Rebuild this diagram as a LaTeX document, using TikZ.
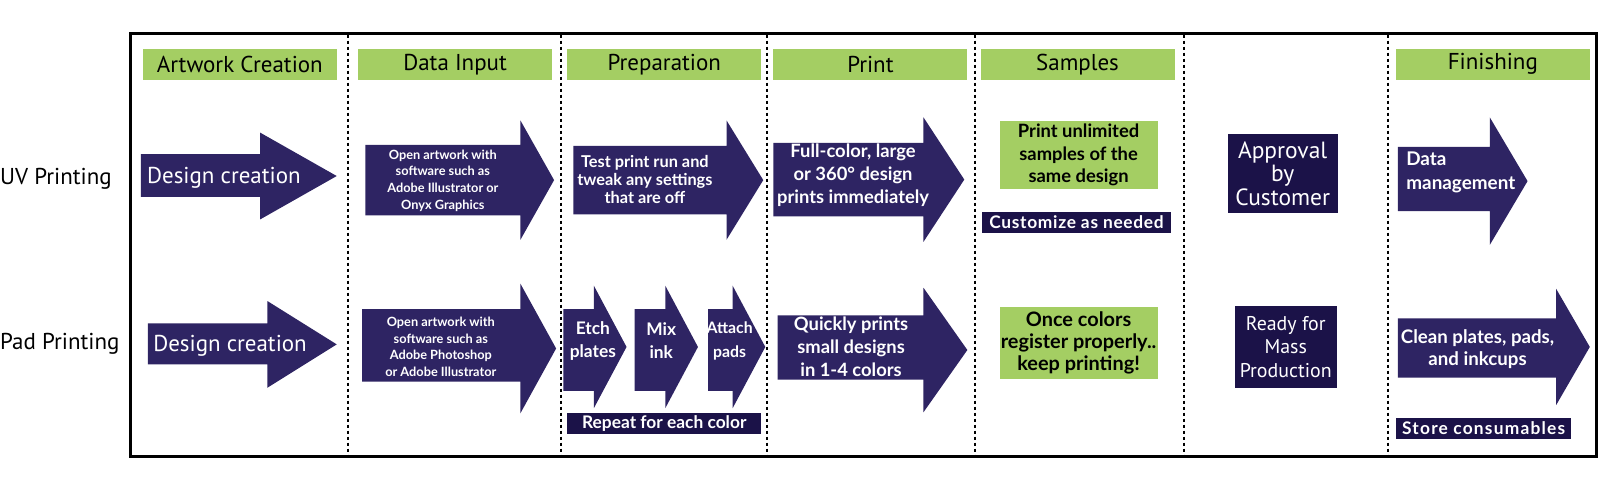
\documentclass[tikz,border=0pt]{standalone}
\usepackage{fontspec}
\setmainfont{PT Sans}
\newfontfamily\latofont{Lato}
\usetikzlibrary{positioning}
\definecolor{navy}{RGB}{46,36,99}
\definecolor{inkbox}{RGB}{27,18,72}
\definecolor{leaf}{RGB}{164,206,99}
% flecha gruesa: x cola, x cabeza, x punta, y arriba, y abajo, cabeza arriba, cabeza abajo
\newcommand{\fatarrow}[7]{%
  \fill[navy] (#1,#4) -- (#2,#4) -- (#2,#6) -- (#3,{(#6+#7)/2}) -- (#2,#7) -- (#2,#5) -- (#1,#5) -- cycle;}

\begin{document}
\begin{tikzpicture}[x=1pt,y=-1pt,scale=1.0204,transform shape,
  hdr/.style={fill=leaf,inner sep=0pt,minimum width=190pt,minimum height=30pt,font=\fontsize{22.5}{24}\selectfont},
  rowlbl/.style={anchor=west,inner sep=0pt,font=\fontsize{22.5}{24}\selectfont},
  arrtxt/.style 2 args={text=white,align=center,inner sep=0pt,font=\latofont\bfseries\fontsize{#1}{#2}\selectfont},
  bigtxt/.style={text=white,anchor=west,inner sep=0pt,font=\fontsize{22.5}{24}\selectfont},
  greenbox/.style={fill=leaf,align=center,inner sep=0pt,font=\latofont\bfseries\fontsize{#1}{22}\selectfont},
  darkbox/.style={fill=inkbox,text=white,align=center,inner sep=0pt,font=\fontsize{#1}{23}\selectfont},
  tagbox/.style={fill=inkbox,text=white,inner sep=0pt,minimum height=21pt,font=\latofont\bfseries\fontsize{17}{18}\selectfont\addfontfeature{LetterSpace=#1}},
  tagbox/.default=0]
  \useasboundingbox (0,0) rectangle (1568,490);

  % Marco
  \draw[line width=3pt] (128,33) rectangle (1565,447);

  % Separadores
  \foreach \x in {341,550,752,955,1160,1360}
    \draw[line width=2pt,dash pattern=on 3pt off 3pt] (\x,34) -- (\x,446);

  % Encabezados
  \foreach \x/\t/\n in {235/Artwork Creation/hart,446/Data Input/hdata,651/Preparation/hprep,853/Print/hprint,1056/Samples/hsamp,1463/Finishing/hfin}
    \node[hdr] (\n) at (\x,63) {\t};

  % Filas
  \node[rowlbl] (uv) at (0,175) {UV Printing};
  \node[rowlbl] (pad) at (0,337) {Pad Printing};

  % UV Printing
  \fatarrow{138}{255}{330}{151}{193}{130}{215}
  \node[bigtxt] (uvdesign) at (144,174) {Design creation};
  \fatarrow{358}{510}{543}{142}{211}{118}{235}
  \node[arrtxt={12.5}{16.3}] (uvdata) at (434,177) {Open artwork with\\software such as\\Adobe Illustrator or\\Onyx Graphics};
  \fatarrow{562}{712}{748}{143}{210}{118}{235}
  \node[arrtxt={16}{18}] (uvprep) at (632,176) {Test print run and\\tweak any settings\\that are off};
  \fatarrow{758}{905}{945}{140}{212}{115}{237}
  \node[arrtxt={18}{22.5}] (uvprint) at (836,172) {Full-color, large\\or 360° design\\prints immediately};
  \node[greenbox=18,minimum width=155pt,minimum height=67pt] (uvsamp) at (1057,152) {Print unlimited\\samples of the\\same design};
  \node[tagbox=4,minimum width=186pt] (uvcust) at (1055,218) {Customize as needed};
  \node[darkbox=23,minimum width=108pt,minimum height=78pt] (uvok) at (1257,170) {Approval\\by\\Customer};
  \fatarrow{1370}{1460}{1497}{144}{207}{115}{240}
  \node[arrtxt={18.5}{23},align=left,anchor=west] (uvfin) at (1378,169) {Data\\management};

  % Pad Printing
  \fatarrow{145}{262}{330}{317}{357}{295}{380}
  \node[bigtxt] (paddesign) at (150,339) {Design creation};
  \fatarrow{355}{510}{545}{303}{374}{278}{405}
  \node[arrtxt={12.5}{16.3}] (paddata) at (432,340) {Open artwork with\\software such as\\Adobe Photoshop\\or Adobe Illustrator};
  \fatarrow{552}{582}{614}{303}{383}{280}{400}
  \node[arrtxt={17}{23}] (padetch) at (581,334) {Etch\\plates};
  \fatarrow{622}{652}{684}{303}{383}{280}{400}
  \node[arrtxt={17}{23}] (padmix) at (648,334) {Mix\\ink};
  \fatarrow{694}{718}{750}{303}{383}{280}{400}
  \node[arrtxt={15.5}{23}] (padpads) at (715,334) {Attach\\pads};
  \node[tagbox,minimum width=190pt] (padrep) at (651,415) {Repeat for each color};
  \fatarrow{762}{905}{948}{309}{372}{282}{404}
  \node[arrtxt={18}{22.5}] (padprint) at (834,340) {Quickly prints\\small designs\\in 1-4 colors};
  \node[greenbox=19.5,minimum width=155pt,minimum height=70pt] (padsamp) at (1057,336) {Once colors\\register properly..\\keep printing!};
  \node[darkbox=19.5,minimum width=100pt,minimum height=80pt] (padok) at (1260,340) {Ready for\\Mass\\Production};
  \fatarrow{1370}{1525}{1558}{312}{370}{283}{397}
  \node[arrtxt={18.3}{22}] (padfin) at (1448,342) {Clean plates, pads,\\and inkcups};
  \node[tagbox=7,minimum width=172pt] (padstore) at (1454,420) {Store consumables};
\end{tikzpicture}
\end{document}
